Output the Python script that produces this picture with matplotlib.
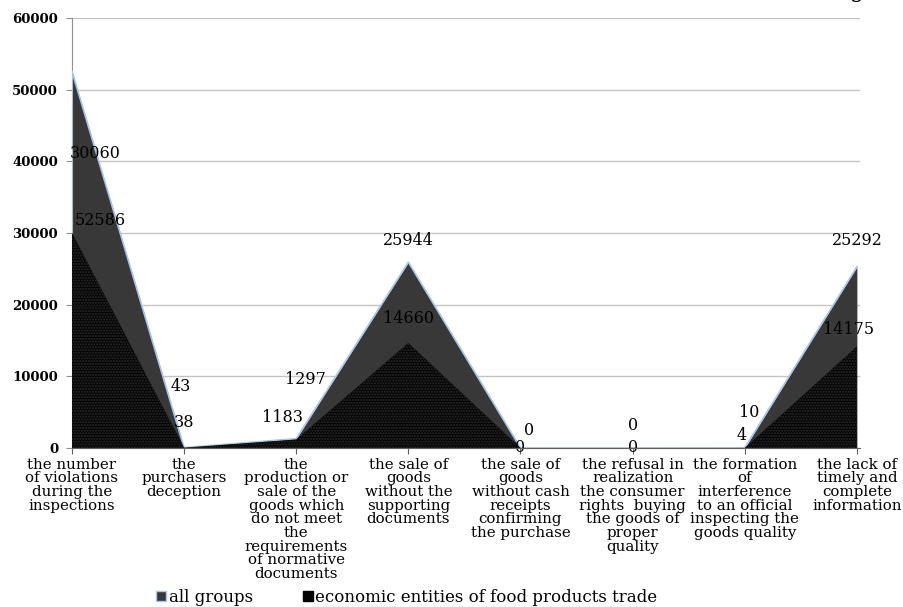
import numpy as np
import matplotlib
matplotlib.use('Agg')
import matplotlib.pyplot as plt
from matplotlib.patches import Patch

# Daten

categories = ["the number\nof violations\nduring the\ninspections",
              "the\npurchasers\ndeception",
              "the\nproduction or\nsale of the\ngoods which\ndo not meet\nthe\nrequirements\nof normative\ndocuments",
              "the sale of\ngoods\nwithout the\nsupporting\ndocuments",
              "the sale of\ngoods\nwithout cash\nreceipts\nconfirming\nthe purchase",
              "the refusal in\nrealization\nthe consumer\nrights  buying\nthe goods of\nproper\nquality",
              "the formation\nof\ninterference\nto an official\ninspecting the\ngoods quality",
              "the lack of\ntimely and\ncomplete\ninformation"]

all_groups = [52586, 43, 1297, 25944, 0, 0, 10, 25292]
food_trade = [30060, 38, 1183, 14660, 0, 0, 4, 14175]

series_names = ["all groups", "economic entities of food products trade"]

# Lage der Datenbeschriftungen (wie im Original verschoben)
lab_all_x = [0.25, 0.97, 2.08, 3.0, 4.08, 5.0, 6.04, 7.0]
lab_all_y = [31800, 8600, 9500, 29000, 2500, 3200, 5000, 29000]
lab_food_x = [0.21, 1.0, 1.88, 3.0, 4.0, 5.0, 5.97, 6.93]
lab_food_y = [41100, 3600, 4300, 18100, 0, 0, 1700, 16500]

# Plot-Einstellungen

fsize = 10.8
plt.rcParams['font.family'] = "DejaVu Serif"

fig = plt.figure(figsize=(9.04, 6.07), dpi=100)
ax = fig.add_axes([0.0796, 0.262, 0.872, 0.708])

x = np.arange(len(categories))

ax.fill_between(x, all_groups, 0, color="#383838", linewidth=0, zorder=2)
ax.plot(x, all_groups, color="#a9c4ea", linewidth=1.2, zorder=3)
ax.plot([0, 0], [0, all_groups[0]], color="#a9c4ea", linewidth=1.2, zorder=3)
ax.fill_between(x, food_trade, 0, facecolor="#050505", edgecolor="#2a2a2a",
                hatch="......", linewidth=0, zorder=4)

# Datenbeschriftungen
for i in range(len(categories)):
    ax.text(lab_all_x[i], lab_all_y[i], str(all_groups[i]),
            ha="center", va="center", fontsize=11.5, zorder=6)
    ax.text(lab_food_x[i], lab_food_y[i], str(food_trade[i]),
            ha="center", va="center", fontsize=11.5, zorder=6)

ax.set_xlim(0, len(categories) - 1 + 0.03)
ax.set_ylim(0, 60000)
ax.set_yticks(np.arange(0, 60001, 10000))
ax.set_yticklabels([str(v) for v in range(0, 60001, 10000)], fontweight="bold", fontsize=9.5)
ax.set_xticks(x)
ax.set_xticklabels(categories, fontsize=fsize, linespacing=0.97)
ax.tick_params(axis='x', length=4, color="#606060", pad=3)
ax.tick_params(axis='y', length=4, color="#909090", pad=6)

ax.grid(axis='y', color="#c4c4c4", linewidth=1.0, zorder=0)
ax.set_axisbelow(True)
for s in ["top", "right"]:
    ax.spines[s].set_visible(False)
ax.spines["left"].set_color("#909090")
ax.spines["bottom"].set_color("#606060")
ax.spines["bottom"].set_zorder(7)

handles = [Patch(facecolor="#383838", edgecolor="#a9c4ea"),
           Patch(facecolor="#050505", edgecolor="#050505")]
fig.legend(handles, series_names, loc="center", bbox_to_anchor=(0.45, 0.016), ncol=2,
           frameon=False, fontsize=12, handlelength=0.6, handleheight=0.6,
           handletextpad=0.15, columnspacing=3.0, borderpad=0)

fig.text(0.948, 1.0 + 3 / 607, "g", fontsize=16, va="baseline", ha="center")

fig.savefig("out.png", dpi=100)
